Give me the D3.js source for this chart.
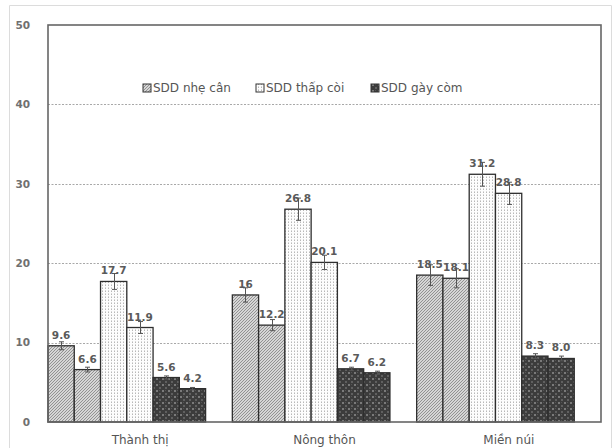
<!DOCTYPE html>
<html>
<head>
<meta charset="utf-8">
<script src="https://cdn.jsdelivr.net/npm/d3@7/dist/d3.min.js"></script>
<style>
  html, body { margin: 0; padding: 0; background: #fff; }
  svg { display: block; }
</style>
</head>
<body>
<svg id="chart" width="612" height="448"></svg>
<script>
// Regions on the x axis
const categories = ["Thành thị", "Nông thôn", "Miền núi"];
// Malnutrition indicators (legend order)
const seriesNames = ["SDD nhẹ cân", "SDD thấp còi", "SDD gày còm"];
// Two survey rounds per indicator and region, as printed above the bars
const nheCan  = [["9.6", "6.6"], ["16", "12.2"], ["18.5", "18.1"]];
const thapCoi = [["17.7", "11.9"], ["26.8", "20.1"], ["31.2", "28.8"]];
const gayCom  = [["5.6", "4.2"], ["6.7", "6.2"], ["8.3", "8.0"]];
// Half-width of the error bars
const nheCanErr  = [[0.5, 0.3], [0.9, 0.7], [1.3, 1.2]];
const thapCoiErr = [[1.0, 0.75], [1.4, 0.9], [1.5, 1.4]];
const gayComErr  = [[0.2, 0.15], [0.2, 0.2], [0.3, 0.3]];
const yTicks = [0, 10, 20, 30, 40, 50];

const seriesValues = [nheCan, thapCoi, gayCom];
const seriesErrors = [nheCanErr, thapCoiErr, gayComErr];

const svg = d3.select("#chart");
const plot = { left: 48, right: 601, top: 25, bottom: 422 };

// Fill patterns
const defs = svg.append("defs");
const pHatch = defs.append("pattern").attr("id", "pat0")
  .attr("patternUnits", "userSpaceOnUse").attr("width", 3).attr("height", 3);
pHatch.append("rect").attr("width", 3).attr("height", 3).attr("fill", "#d6d6d6");
pHatch.append("path").attr("d", "M-1,1 l2,-2 M0,3 l3,-3 M2,4 l2,-2")
  .attr("stroke", "#8a8a8a").attr("stroke-width", 0.9);

const pDots = defs.append("pattern").attr("id", "pat1")
  .attr("patternUnits", "userSpaceOnUse").attr("width", 3).attr("height", 3);
pDots.append("rect").attr("width", 3).attr("height", 3).attr("fill", "#fdfdfd");
pDots.append("rect").attr("width", 1).attr("height", 1).attr("fill", "#b8b8b8");
pDots.append("rect").attr("x", 0).attr("y", 2).attr("width", 1).attr("height", 1).attr("fill", "#d8d8d8");

const pCheck = defs.append("pattern").attr("id", "pat2")
  .attr("patternUnits", "userSpaceOnUse").attr("width", 6).attr("height", 6);
pCheck.append("rect").attr("width", 6).attr("height", 6).attr("fill", "#3c3c3c");
pCheck.append("rect").attr("x", 0).attr("y", 0).attr("width", 2).attr("height", 2).attr("fill", "#7a7a7a");
pCheck.append("rect").attr("x", 3).attr("y", 3).attr("width", 2).attr("height", 2).attr("fill", "#606060");
pCheck.append("rect").attr("x", 3).attr("y", 0).attr("width", 1).attr("height", 1).attr("fill", "#555");

// Outer frame
svg.append("path").attr("d", "M9.5,448 V5.5 H611.5 V448")
  .attr("fill", "none").attr("stroke", "#dcdcdc").attr("stroke-width", 1);

// Scales
const y = d3.scaleLinear().domain([0, 50]).range([plot.bottom, plot.top]);
const x0 = d3.scaleBand().domain(categories).range([plot.left, plot.right]);
const x1 = d3.scaleBand().domain(d3.range(6)).range([0, x0.bandwidth() * 0.855]);

// Gridlines
svg.append("g").selectAll("line").data(yTicks.filter(t => t > 0 && t < 50)).join("line")
  .attr("x1", plot.left).attr("x2", plot.right)
  .attr("y1", d => Math.round(y(d)) + 0.5).attr("y2", d => Math.round(y(d)) + 0.5)
  .attr("stroke", "#a8a8a8").attr("stroke-width", 1).attr("stroke-dasharray", "2,1.5");

// Y axis labels
const yAxis = svg.append("g").attr("transform", "translate(30,0)")
  .call(d3.axisLeft(y).tickValues(yTicks).tickSize(0).tickPadding(0));
yAxis.select(".domain").remove();
yAxis.selectAll("text")
  .attr("font-family", "DejaVu Sans").attr("font-weight", "bold")
  .attr("font-size", 10.5).attr("fill", "#707070");

// Flatten bars
const bars = [];
categories.forEach((c, ci) => {
  seriesValues.forEach((s, si) => {
    s[ci].forEach((label, k) => {
      bars.push({ cat: c, series: si, idx: si * 2 + k, label: label,
                  value: +label, err: seriesErrors[si][ci][k] });
    });
  });
});

const bx = d => x0(d.cat) + x1(d.idx);
const bw = x1.bandwidth();

svg.append("g").selectAll("rect").data(bars).join("rect")
  .attr("x", bx).attr("y", d => y(d.value))
  .attr("width", bw).attr("height", d => y(0) - y(d.value))
  .attr("fill", d => `url(#pat${d.series})`)
  .attr("stroke", "#2e2e2e").attr("stroke-width", 1.3);

// Value labels
svg.append("g").selectAll("text").data(bars).join("text")
  .attr("x", d => bx(d) + bw / 2).attr("y", d => y(d.value) - 7)
  .attr("text-anchor", "middle")
  .attr("font-family", "DejaVu Sans").attr("font-weight", "bold")
  .attr("font-size", 10.5).attr("fill", "#5a5a5a")
  .text(d => d.label);

// Error bars
const eg = svg.append("g").attr("stroke", "#555").attr("stroke-width", 1);
bars.forEach(d => {
  const cx = Math.round(bx(d) + bw / 2) + 0.5;
  const y1 = y(d.value + d.err), y2 = y(d.value - d.err);
  eg.append("line").attr("x1", cx).attr("x2", cx).attr("y1", y1).attr("y2", y2);
  eg.append("line").attr("x1", cx - 2.5).attr("x2", cx + 2.5).attr("y1", y1).attr("y2", y1);
  eg.append("line").attr("x1", cx - 2.5).attr("x2", cx + 2.5).attr("y1", y2).attr("y2", y2);
});

// Plot border
svg.append("rect")
  .attr("x", plot.left).attr("y", plot.top)
  .attr("width", plot.right - plot.left).attr("height", plot.bottom - plot.top)
  .attr("fill", "none").attr("stroke", "#666").attr("stroke-width", 1.6);

// Category labels
svg.append("g").selectAll("text").data(categories).join("text")
  .attr("x", d => x0(d) + x0.bandwidth() / 2).attr("y", 444)
  .attr("text-anchor", "middle")
  .attr("font-family", "DejaVu Sans").attr("font-size", 12)
  .attr("fill", "#555")
  .text(d => d);

// Legend
const legendX = [143, 256, 371];
const lg = svg.append("g");
seriesNames.forEach((name, i) => {
  lg.append("rect").attr("x", legendX[i]).attr("y", 84).attr("width", 8).attr("height", 8)
    .attr("fill", `url(#pat${i})`).attr("stroke", "#333").attr("stroke-width", 1);
  lg.append("text").attr("x", legendX[i] + 10).attr("y", 92)
    .attr("font-family", "DejaVu Sans").attr("font-size", 12)
    .attr("fill", "#555").text(name);
});
</script>
</body>
</html>
